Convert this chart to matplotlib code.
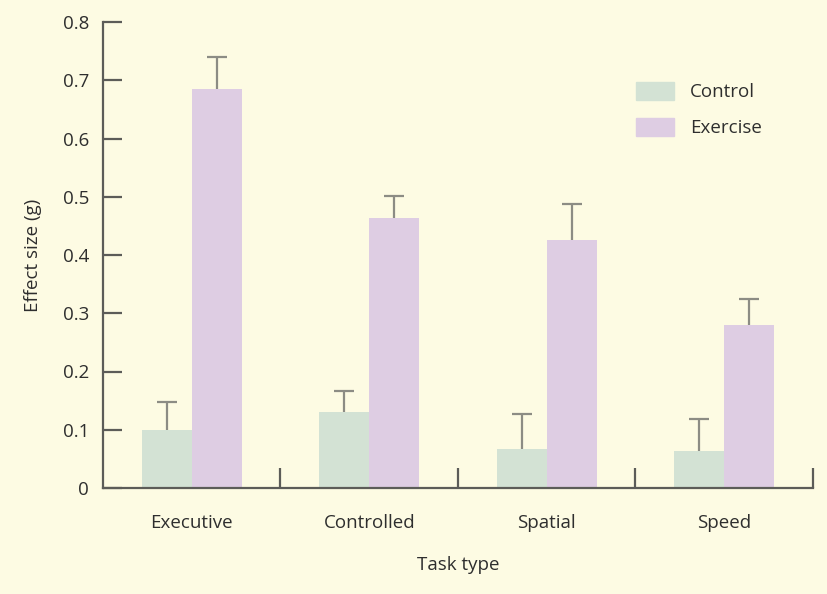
import numpy as np
import matplotlib.pyplot as plt
from matplotlib.patches import Patch

# Datos
tasks = ['Executive', 'Controlled', 'Spatial', 'Speed']
control = [0.10, 0.131, 0.067, 0.064]
control_top = [0.148, 0.167, 0.127, 0.118]
exercise = [0.685, 0.464, 0.426, 0.280]
exercise_top = [0.740, 0.501, 0.488, 0.325]
yticks = [0, 0.1, 0.2, 0.3, 0.4, 0.5, 0.6, 0.7, 0.8]

bg = '#fdfbe3'
c_control = '#d3e2d4'
c_exercise = '#decde3'
axis_col = '#5c5c58'
err_col = '#8c8c84'
text_col = '#2e2e2e'
fs = 13.5

plt.rcParams['font.family'] = ['Open Sans', 'DejaVu Sans']

fig = plt.figure(figsize=(8.28, 5.94), dpi=100, facecolor=bg)
ax = fig.add_axes([103/828, 106/594, 710/828, 466/594], facecolor=bg)

x = np.arange(len(tasks)) + 0.5
w = 0.2817

err_c = [np.zeros(len(tasks)), np.array(control_top) - np.array(control)]
err_e = [np.zeros(len(tasks)), np.array(exercise_top) - np.array(exercise)]

ax.bar(x - w/2, control, w, color=c_control, zorder=2)
ax.bar(x + w/2, exercise, w, color=c_exercise, zorder=2)
# barras de error solo hacia arriba, con tapa arriba
ax.errorbar(x - w/2, control, yerr=err_c, fmt='none', ecolor=err_col,
            elinewidth=1.6, capsize=0, zorder=3)
ax.errorbar(x + w/2, exercise, yerr=err_e, fmt='none', ecolor=err_col,
            elinewidth=1.6, capsize=0, zorder=3)
ax.plot(x - w/2, control_top, ls='none', marker='_', ms=15, mew=1.6,
        color=err_col, zorder=3)
ax.plot(x + w/2, exercise_top, ls='none', marker='_', ms=15, mew=1.6,
        color=err_col, zorder=3)

ax.set_xlim(0, 4)
ax.set_ylim(0, 0.8)

for s in ['top', 'right']:
    ax.spines[s].set_visible(False)
for s in ['left', 'bottom']:
    ax.spines[s].set_color(axis_col)
    ax.spines[s].set_linewidth(1.6)
    ax.spines[s].set_zorder(4)

ax.set_yticks(yticks)
ax.set_yticklabels(['0'] + [f'{v:.1f}' for v in yticks[1:]])
ax.tick_params(axis='y', direction='in', length=13.5, width=1.6,
               color=axis_col, labelsize=fs, labelcolor=text_col, pad=10)

ax.set_xticks([1, 2, 3, 4])
ax.set_xticklabels([])
ax.set_xticks(x, minor=True)
ax.set_xticklabels(tasks, minor=True)
ax.tick_params(axis='x', which='major', direction='in', length=14.5,
               width=1.6, color=axis_col)
ax.tick_params(axis='x', which='minor', length=0, labelsize=fs,
               labelcolor=text_col, pad=19)

ax.set_xlabel('Task type', fontsize=fs, color=text_col, labelpad=17)
ax.set_ylabel('Effect size (g)', fontsize=fs, color=text_col, labelpad=15)

handles = [Patch(color=c_control, label='Control'),
           Patch(color=c_exercise, label='Exercise')]
leg = ax.legend(handles=handles, loc='upper left',
                bbox_to_anchor=(516/710, 1 - 43/466), frameon=False,
                fontsize=fs, handlelength=2.03, handleheight=1.07,
                labelspacing=0.9, handletextpad=0.85)
for t in leg.get_texts():
    t.set_color(text_col)

fig.savefig('out.png', dpi=100, facecolor=bg)
